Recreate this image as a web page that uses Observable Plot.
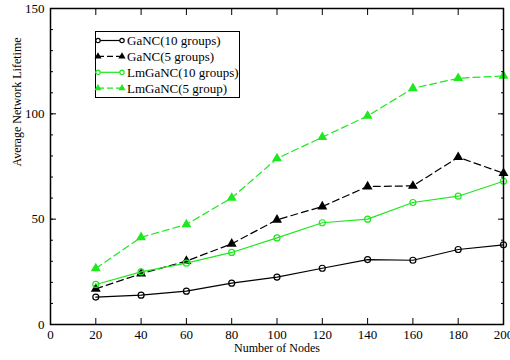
<!DOCTYPE html>
<html><head><meta charset="utf-8">
<script src="https://cdn.jsdelivr.net/npm/d3@7"></script>
<script src="https://cdn.jsdelivr.net/npm/@observablehq/plot@0.6"></script>
<style>
body{margin:0;background:#fff;font-family:"Liberation Serif","DejaVu Serif",serif;}
#wrap{position:relative;width:510px;height:360px;}
#legend{position:absolute;left:95px;top:31px;width:145px;height:67px;border:1px solid #000;box-sizing:border-box;background:#fff;}
#legend svg{overflow:visible;display:block;}
</style></head>
<body><div id="wrap"><div id="legend"></div></div>
<script>
const nodes = [20,40,60,80,100,120,140,160,180,200];
const seriesNames = ["GaNC(10 groups)","GaNC(5 groups)","LmGaNC(10 groups)","LmGaNC(5 group)"];
const ganc10 = [13.0,13.9,15.8,19.6,22.5,26.7,30.8,30.5,35.6,37.8];
const ganc5 = [16.9,24.1,30.1,38.3,49.7,56.0,65.5,65.8,79.4,71.8];
const lmganc10 = [19.0,25.0,29.1,34.2,41.1,48.3,50.0,57.9,60.9,68.0];
const lmganc5 = [26.6,41.4,47.5,60.1,78.8,88.9,99.0,112.1,116.9,118.0];
const xTicks = [0,20,40,60,80,100,120,140,160,180,200];
const yTicks = [0,50,100,150];
const yMinor = d3.range(0,151,10);

const styles = [
  {color:"#000", dash:null, symbol:"circle", fill:"none"},
  {color:"#000", dash:"7,4", symbol:"triangle", fill:"#000"},
  {color:"#1ee81e", dash:null, symbol:"circle", fill:"none"},
  {color:"#1ee81e", dash:"7,4", symbol:"triangle", fill:"#1ee81e"}
];
const allValues = [ganc10, ganc5, lmganc10, lmganc5];
const series = allValues.map((vals,i)=>nodes.map((n,j)=>({x:n,y:vals[j],s:seriesNames[i]})));

const marks = [];
series.forEach((data,i)=>{
  const st = styles[i];
  marks.push(Plot.line(data,{x:"x",y:"y",stroke:st.color,strokeWidth:1.2,strokeDasharray:st.dash}));
  if (st.symbol==="circle")
    marks.push(Plot.dot(data,{x:"x",y:"y",r:3,stroke:st.color,fill:"none",strokeWidth:1.2}));
  else
    marks.push(Plot.dot(data,{x:"x",y:"y",r:3.7,symbol:"triangle",fill:st.fill,stroke:"none"}));
});

const chart = Plot.plot({
  width:510, height:360,
  marginLeft:50, marginRight:7, marginTop:8, marginBottom:36,
  style:{fontFamily:"Liberation Serif, serif", fontSize:"13px", color:"#000", background:"#fff"},
  x:{domain:[0,200]},
  y:{domain:[0,150]},
  marks:[
    ...marks,
    Plot.frame({stroke:"#000", strokeWidth:1.5}),
    Plot.axisX(xTicks,{anchor:"bottom", tickSize:-6, tickPadding:11, label:null, fontSize:13}),
    Plot.axisX(xTicks,{anchor:"top", tickSize:-6, tickFormat:()=>"" , label:null}),
    Plot.axisY(yTicks,{anchor:"left", tickSize:-6, tickPadding:12, label:null, fontSize:13}),
    Plot.axisY(yMinor,{anchor:"left", tickSize:-3, tickFormat:()=>"", label:null}),
    Plot.axisY(yMinor,{anchor:"right", tickSize:-3, tickFormat:()=>"", label:null}),
    Plot.axisY(yTicks,{anchor:"right", tickSize:-6, tickFormat:()=>"", label:null}),
    Plot.text(["Number of Nodes"],{frameAnchor:"bottom", lineAnchor:"middle", dy:24, fontSize:12}),
    Plot.text(["Average Network Lifetime"],{frameAnchor:"left", dx:-33, rotate:-90, fontSize:12})
  ]
});
document.getElementById("wrap").prepend(chart);

// legend
const lg = d3.select("#legend").append("svg").attr("width",143).attr("height",65);
seriesNames.forEach((name,i)=>{
  const st = styles[i];
  const y = 8.5 + i*15.9;
  const g = lg.append("g");
  g.append("line").attr("x1",2).attr("x2",26).attr("y1",y).attr("y2",y)
    .attr("stroke",st.color).attr("stroke-width",1.2).attr("stroke-dasharray",st.dash ? "6,3" : null);
  [2,26].forEach(cx=>{
    if (st.symbol==="circle")
      g.append("circle").attr("cx",cx).attr("cy",y).attr("r",2.2).attr("fill","#fff").attr("stroke",st.color).attr("stroke-width",1.2);
    else
      g.append("path").attr("d",d3.symbol(d3.symbolTriangle,22)()).attr("transform",`translate(${cx},${y})`).attr("fill",st.fill);
  });
  g.append("text").attr("x",31).attr("y",y+4.3).text(name).attr("font-size","13px")
    .attr("font-family","Liberation Serif, serif");
});
</script>
</body></html>
